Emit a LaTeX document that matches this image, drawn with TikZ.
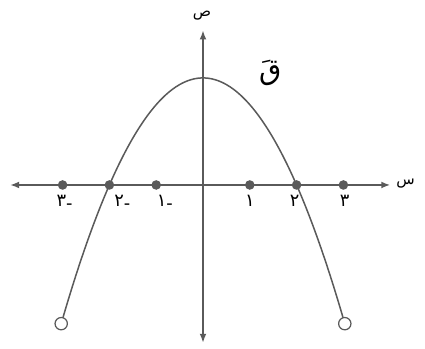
\documentclass[tikz,border=0pt]{standalone}
\usepackage{fontspec}
\newfontfamily\arabicfont[Script=Arabic]{DejaVu Sans}
\TeXXeTstate=1
\usetikzlibrary{arrows.meta}
\definecolor{graphline}{HTML}{5A5A5A}

\begin{document}
\begin{tikzpicture}[
  x=1.2cm,
  y=1.2cm,
  line join=round,
  line cap=round,
  axis/.style={draw=graphline,line width=1.1pt,{Latex[length=6.5pt,width=5pt]}-{Latex[length=6.5pt,width=5pt]}},
  curve/.style={draw=graphline,line width=1.1pt},
  tickdot/.style={circle,fill=graphline,inner sep=0pt,minimum size=7pt},
  opendot/.style={circle,draw=graphline,fill=white,line width=0.9pt,inner sep=0pt,minimum size=9pt},
  ticklabel/.style={font=\arabicfont\fontsize{13}{13}\selectfont,text=black,inner sep=1pt},
  axislabel/.style={font=\arabicfont\fontsize{11}{11}\selectfont,text=black,inner sep=1pt}
]
  \useasboundingbox (-4.338,-3.504) rectangle (4.744,3.953);

  % Axis end points.
  \coordinate (xleft) at (-4.12,0);
  \coordinate (xright) at (4.0,0);
  \coordinate (ytop) at (0,3.3);
  \coordinate (ybottom) at (0,-3.37);

  \draw[axis] (xleft) -- (xright);
  \draw[axis] (ybottom) -- (ytop);

  \node[axislabel] (xname) at (4.33,0.03) {\beginR س\endR};
  \node[axislabel] (yname) at (-0.02,3.62) {\beginR ص\endR};

  % The curve: zeros at -2 and 2, open ends at both sides.
  \draw[curve] plot[domain=-3.03:3.03,samples=80,smooth] (\x,{0.572*(4-\x*\x)});
  \node[opendot] (leftend) at (-3.03,{0.572*(4-3.03*3.03)}) {};
  \node[opendot] (rightend) at (3.03,{0.572*(4-3.03*3.03)}) {};
  \node[font=\arabicfont\fontsize{21}{21}\selectfont] (curvename) at (1.45,2.4) {\beginR قَ\endR};

  % Integer marks on the horizontal axis; the minus sign sits after the digit.
  \foreach \n/\digit/\sign/\dx in {-3/٣/-/0.05,-2/٢/-/0.33,-1/١/-/0.22,1/١//0,2/٢//-0.05,3/٣//0.03} {
    \node[tickdot] (dot\n) at (\n,0) {};
    \node[ticklabel,below=6pt] (lab\n) at ([xshift=\dx cm]dot\n) {\mbox{\digit}\mbox{\raisebox{-2.5pt}{\sign}}};
  }
\end{tikzpicture}
\end{document}
